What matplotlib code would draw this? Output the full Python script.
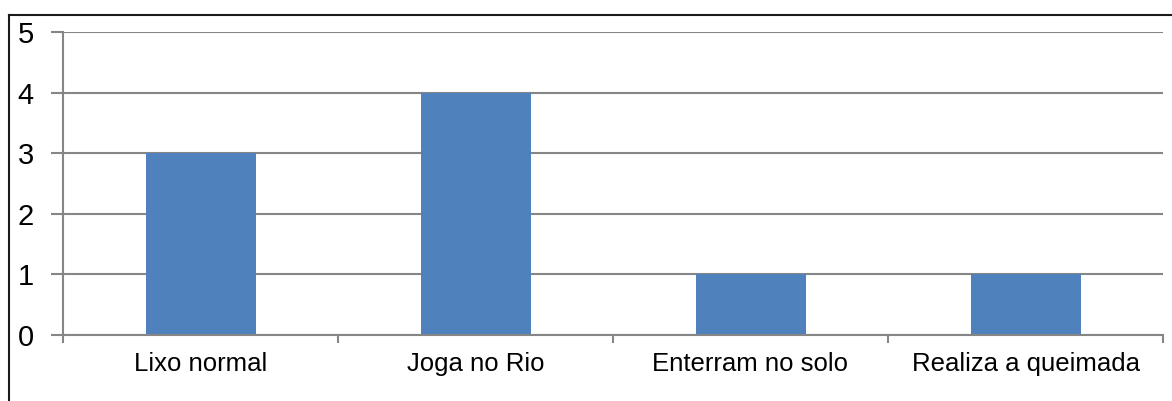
import matplotlib
matplotlib.use("Agg")
import matplotlib.pyplot as plt
from matplotlib.lines import Line2D

categories = ["Lixo normal", "Joga no Rio", "Enterram no solo", "Realiza a queimada"]
values = [3, 4, 1, 1]
yticks = [0, 1, 2, 3, 4, 5]

plt.rcParams['font.family'] = ['Liberation Sans', 'DejaVu Sans']

W, H = 1172, 401
fig = plt.figure(figsize=(W/100, H/100), dpi=100)
ax = fig.add_axes([63/W, 1-335/H, (1163-63)/W, (335-32)/H])

grid_c = "#868686"
x = list(range(len(categories)))
ax.bar(x, values, width=0.4, color="#4F81BD", zorder=3)
ax.set_xlim(-0.5, len(categories)-0.5)
ax.set_ylim(0, 5)
ax.set_yticks(yticks)
ax.set_yticklabels([str(v) for v in yticks], fontsize=21)
ax.yaxis.grid(True, color=grid_c, linewidth=1.5, zorder=0)
ax.set_xticks(x)
ax.set_xticklabels(categories, fontsize=18.5)
ax.set_xticks([i-0.5 for i in range(len(categories)+1)], minor=True)
ax.tick_params(axis='x', which='major', length=0, pad=12)
ax.tick_params(axis='x', which='minor', length=6, width=1.5, color=grid_c, direction='out')
ax.tick_params(axis='y', length=9, width=1.5, color=grid_c, pad=12)
for s in ['top', 'right']:
    ax.spines[s].set_visible(False)
for s in ['left', 'bottom']:
    ax.spines[s].set_color(grid_c)
    ax.spines[s].set_linewidth(1.5)
ax.spines['bottom'].set_zorder(4)

# outer frame (left and top visible)
fig.add_artist(Line2D([9.5/W, 9.5/W], [0, 1-14.5/H], transform=fig.transFigure, color="#1a1a1a", linewidth=1.5))
fig.add_artist(Line2D([9.5/W, 1], [1-14.5/H, 1-14.5/H], transform=fig.transFigure, color="#1a1a1a", linewidth=1.5))

fig.savefig("out.png", dpi=100)
